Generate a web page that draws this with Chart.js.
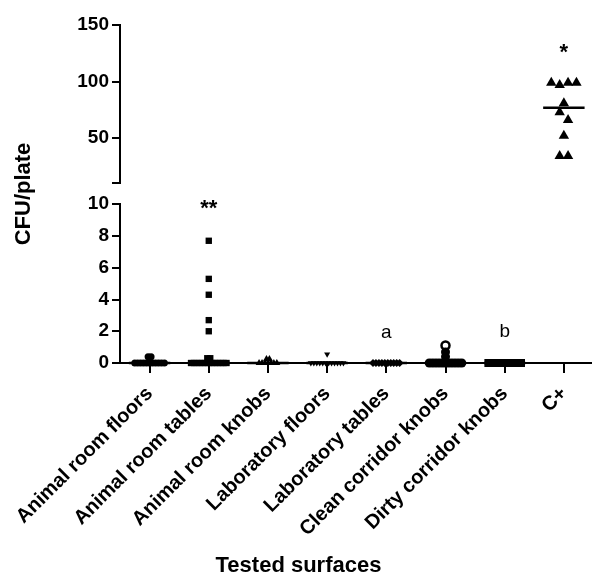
<!DOCTYPE html>
<html>
<head>
<meta charset="utf-8">
<script src="https://cdn.jsdelivr.net/npm/chart.js@4.4.0/dist/chart.umd.min.js"></script>
<style>
  html, body { margin: 0; padding: 0; background: #fff; }
  #wrap { width: 597px; height: 577px; }
</style>
</head>
<body>
<div id="wrap"><canvas id="chart" width="597" height="577"></canvas></div>
<script>
// Categories and values (CFU/plate)
const categories = ['Animal room floors', 'Animal room tables', 'Animal room knobs', 'Laboratory floors',
    'Laboratory tables', 'Clean corridor knobs', 'Dirty corridor knobs', 'C+'];

const animalRoomFloors = [0, 0, 0, 0, 0, 0, 0, 0, 0, 0, 0, 0.4, 0.4];
const animalRoomTables = [0, 0, 0, 0, 0, 0, 0, 0, 0, 0, 0, 0, 0, 0.3, 0.3, 2.0, 2.7, 4.3, 5.3, 7.7];
const animalRoomKnobs = [0, 0, 0, 0, 0, 0, 0, 0.25, 0.25];
const laboratoryFloors = [0, 0, 0, 0, 0, 0, 0, 0, 0, 0, 0, 0, 0.55];
const laboratoryTables = [0, 0, 0, 0, 0, 0, 0, 0, 0, 0];
const cleanCorridorKnobs = [0, 0, 0, 0, 0, 0, 0, 0, 0, 0, 0, 0, 0.4, 0.7];
const cleanCorridorKnobsOpen = [1.1];
const dirtyCorridorKnobs = [0, 0, 0, 0, 0, 0, 0, 0, 0, 0, 0, 0];
const positiveControl = [99, 97, 99, 99, 80.7, 72.7, 66, 52, 34, 34];

// Axis ticks for the broken y axis
const bottomTicks = [0, 2, 4, 6, 8, 10];
const topTicks = [50, 100, 150];

// Significance marks
const marks = [
    { category: 1, text: '**', axis: 'y', value: 9.7 },
    { category: 4, text: 'a', axis: 'y', value: 1.9 },
    { category: 6, text: 'b', axis: 'y', value: 1.95 },
    { category: 7, text: '*', axis: 'y2', value: 125 }
];

const series = [animalRoomFloors, animalRoomTables, animalRoomKnobs, laboratoryFloors,
    laboratoryTables, cleanCorridorKnobs, dirtyCorridorKnobs, positiveControl];

// marker look per category
const markers = [
    { style: 'circle', radius: 3.5, step: 3 },
    { style: 'rect', radius: 4.5, step: 3 },
    { style: 'triangle', radius: 4, step: 3 },
    { style: 'triangle', radius: 3.5, step: 3, rotation: 180 },
    { style: 'rectRot', radius: 4, step: 3 },
    { style: 'circle', radius: 4.5, step: 3 },
    { style: 'rect', radius: 5.7, step: 3 },
    { style: 'triangle', radius: 6, step: 8.5 }
];

const font = "'Liberation Sans', Arial, sans-serif";
const pxPerCategory = 60;

// Spread points sharing (roughly) the same value side by side, like a dot plot
function spread(values, category, stepPx, tol) {
    const order = values.map((v, i) => i).sort((a, b) => values[a] - values[b]);
    const groups = [];
    order.forEach(i => {
        const g = groups[groups.length - 1];
        if (g && values[i] - values[g[g.length - 1]] <= tol) g.push(i);
        else groups.push([i]);
    });
    const pts = [];
    groups.forEach(g => {
        g.sort((a, b) => a - b);
        g.forEach((idx, k) => {
            pts.push({ x: category + (k - (g.length - 1) / 2) * stepPx / pxPerCategory, y: values[idx] });
        });
    });
    return pts;
}

function median(values) {
    const s = [...values].sort((a, b) => a - b);
    const m = Math.floor(s.length / 2);
    return s.length % 2 ? s[m] : (s[m - 1] + s[m]) / 2;
}

const datasets = [];
series.forEach((vals, i) => {
    const m = markers[i];
    const axis = i === 7 ? 'y2' : 'y';
    datasets.push({
        type: 'scatter',
        data: spread(vals, i, m.step, i === 7 ? 7 : 0.15),
        yAxisID: axis,
        pointStyle: m.style,
        pointRadius: m.radius,
        pointRotation: m.rotation || 0,
        backgroundColor: '#000',
        borderColor: '#000',
        borderWidth: 0,
        clip: false
    });
    const med = median(vals);
    datasets.push({
        type: 'line',
        data: [{ x: i - 0.35, y: med }, { x: i + 0.35, y: med }],
        yAxisID: axis,
        borderColor: '#000',
        borderWidth: 2.5,
        pointRadius: 0,
        clip: false
    });
});
datasets.push({
    type: 'scatter',
    data: spread(cleanCorridorKnobsOpen, 5, 3, 0.15),
    yAxisID: 'y',
    pointStyle: 'circle',
    pointRadius: 4,
    backgroundColor: '#fff',
    borderColor: '#000',
    borderWidth: 2.5,
    clip: false
});

// Titles and significance letters
const textPlugin = {
    id: 'texts',
    afterDraw(chart) {
        const ctx = chart.ctx;
        const area = chart.chartArea;
        ctx.save();
        ctx.fillStyle = '#000';
        ctx.textAlign = 'center';
        ctx.textBaseline = 'middle';
        marks.forEach(mk => {
            const bold = mk.text.includes('*');
            ctx.font = (bold ? 'bold 22px ' : '19px ') + font;
            const x = chart.scales.x.getPixelForValue(mk.category);
            const y = chart.scales[mk.axis].getPixelForValue(mk.value);
            ctx.fillText(mk.text, x, y);
        });
        ctx.font = 'bold 22px ' + font;
        ctx.fillText('Tested surfaces', chart.width / 2, chart.height - 11);
        ctx.translate(24, (area.top + area.bottom) / 2);
        ctx.rotate(-Math.PI / 2);
        ctx.fillText('CFU/plate', 0, 0);
        ctx.restore();
    }
};

const tickFont = { family: font, weight: 'bold', size: 19 };
const axisGrid = { drawOnChartArea: false, tickLength: 8, lineWidth: 2, color: '#000' };
const axisBorder = { color: '#000', width: 2 };

new Chart(document.getElementById('chart'), {
    data: { datasets },
    options: {
        responsive: false,
        animation: false,
        events: [],
        layout: { padding: { top: 25, right: 0, left: 0, bottom: 0 } },
        plugins: { legend: { display: false }, tooltip: { enabled: false } },
        scales: {
            x: {
                type: 'linear',
                min: -0.5,
                max: 7.45,
                afterBuildTicks: s => { s.ticks = categories.map((c, i) => ({ value: i })); },
                afterFit: s => { s.height = 214; },
                ticks: {
                    autoSkip: false, maxRotation: 45, minRotation: 45, padding: 9, color: '#000',
                    font: { family: font, weight: 'bold', size: 20 },
                    callback: v => categories[v]
                },
                grid: { drawOnChartArea: false, tickLength: 10, lineWidth: 2, color: '#000' },
                border: axisBorder
            },
            // stacked y segments: listed bottom first
            y: {
                type: 'linear', position: 'left', stack: 'cfu', stackWeight: 158.5,
                min: 0, max: 10,
                afterBuildTicks: s => { s.ticks = bottomTicks.map(v => ({ value: v })); },
                afterFit: s => { s.width = 120; },
                ticks: { color: '#000', font: tickFont, padding: 3 },
                grid: axisGrid,
                border: axisBorder
            },
            gap: {
                type: 'linear', position: 'left', stack: 'cfu', stackWeight: 21,
                min: 0, max: 1,
                afterFit: s => { s.width = 120; },
                ticks: { display: false },
                grid: { display: false },
                border: { display: false }
            },
            y2: {
                type: 'linear', position: 'left', stack: 'cfu', stackWeight: 158,
                min: 10, max: 150,
                afterBuildTicks: s => { s.ticks = [10, ...topTicks].map(v => ({ value: v })); },
                afterFit: s => { s.width = 120; },
                ticks: { color: '#000', font: tickFont, padding: 3, callback: v => v === 10 ? '' : v },
                grid: axisGrid,
                border: axisBorder
            }
        }
    },
    plugins: [textPlugin]
});
</script>
</body>
</html>
